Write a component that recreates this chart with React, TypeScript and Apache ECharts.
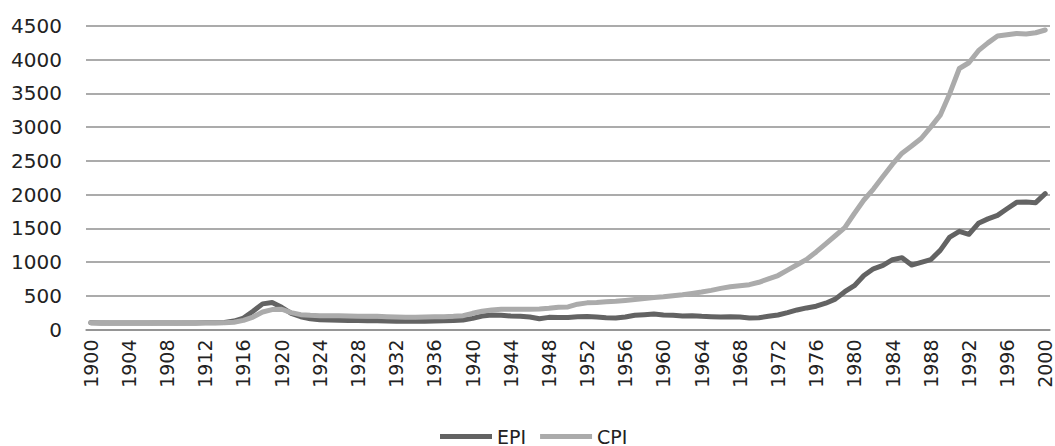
import React, { useEffect, useRef } from "react";
import * as echarts from "echarts";

const years: string[] = [];
for (let y = 1900; y <= 2000; y++) years.push(String(y));

const epi = [
  100, 98, 97, 97, 96, 96, 97, 98, 97, 96,
  97, 98, 99, 100, 105, 125, 170, 270, 380, 400,
  330, 240, 190, 160, 145, 140, 138, 135, 132, 130,
  128, 125, 123, 122, 123, 124, 125, 128, 132, 140,
  165, 200, 215, 212, 200, 195, 185, 160, 180, 178,
  178, 188, 192, 185, 175, 170, 185, 210, 220, 230,
  215, 210, 200, 205, 195, 190, 185, 190, 185, 170,
  175, 195, 215, 250, 290, 320, 345, 390, 450, 560,
  650, 800, 900, 950, 1035, 1065, 955, 995, 1035, 1173,
  1371, 1455, 1411, 1575, 1640, 1693, 1790, 1885, 1890, 1881,
  2015,
];

const cpi = [
  100, 99, 98, 98, 97, 97, 98, 99, 99, 98,
  99, 100, 100, 100, 100, 108, 135, 185, 260, 295,
  300, 250, 220, 210, 205, 205, 203, 200, 198, 197,
  195, 190, 185, 182, 183, 185, 188, 190, 195, 205,
  240, 270, 290, 300, 300, 300, 302, 305, 315, 330,
  335, 375, 395, 400, 410, 418, 430, 445, 460, 475,
  485, 500, 515, 535, 555, 580, 610, 635, 650, 665,
  700, 750, 800, 880, 960, 1040, 1150, 1270, 1390, 1510,
  1720, 1920, 2082, 2267, 2451, 2615, 2720, 2832, 3000, 3178,
  3500, 3870, 3955, 4134, 4250, 4352, 4370, 4390, 4380, 4400,
  4441,
];

const FONT = "DejaVu Sans";

export default function App() {
  const ref = useRef<HTMLDivElement>(null);
  useEffect(() => {
    if (!ref.current) return;
    const chart = echarts.init(ref.current, null, { renderer: "svg" });
    chart.setOption({
      animation: false,
      backgroundColor: "#ffffff",
      grid: { left: 86, right: 5, top: 26, bottom: 116.5, containLabel: false },
      legend: {
        left: 440,
        top: 427,
        padding: 0,
        icon: "rect",
        itemWidth: 52,
        itemHeight: 5,
        itemGap: 14,
        textStyle: { fontFamily: FONT, fontSize: 19, lineHeight: 16, color: "#222" },
        data: ["EPI", "CPI"],
      },
      xAxis: {
        type: "category",
        data: years,
        boundaryGap: true,
        axisLine: { show: true, lineStyle: { color: "#8f8f8f", width: 1.5 } },
        axisTick: { show: false },
        axisLabel: {
          interval: 3,
          rotate: 90,
          margin: 10,
          fontFamily: FONT,
          fontSize: 19,
          lineHeight: 17,
          color: "#222",
        },
      },
      yAxis: {
        type: "value",
        min: 0,
        max: 4500,
        interval: 500,
        axisLine: { show: false },
        axisTick: { show: false },
        splitLine: { lineStyle: { color: "#8f8f8f", width: 1.5 } },
        axisLabel: {
          margin: 24,
          fontFamily: FONT,
          fontSize: 20,
          color: "#222",
          formatter: (v: number) => String(v),
        },
      },
      series: [
        {
          name: "EPI",
          type: "line",
          data: epi,
          symbol: "none",
          itemStyle: { color: "#636363" },
          lineStyle: { color: "#636363", width: 5, join: "round", cap: "round" },
        },
        {
          name: "CPI",
          type: "line",
          data: cpi,
          symbol: "none",
          itemStyle: { color: "#ababab" },
          lineStyle: { color: "#ababab", width: 5, join: "round", cap: "round" },
        },
      ],
    });
    return () => chart.dispose();
  }, []);
  return (
    <div
      ref={ref}
      style={{ position: "fixed", left: 0, top: 0, width: 1055, height: 446 }}
    />
  );
}
